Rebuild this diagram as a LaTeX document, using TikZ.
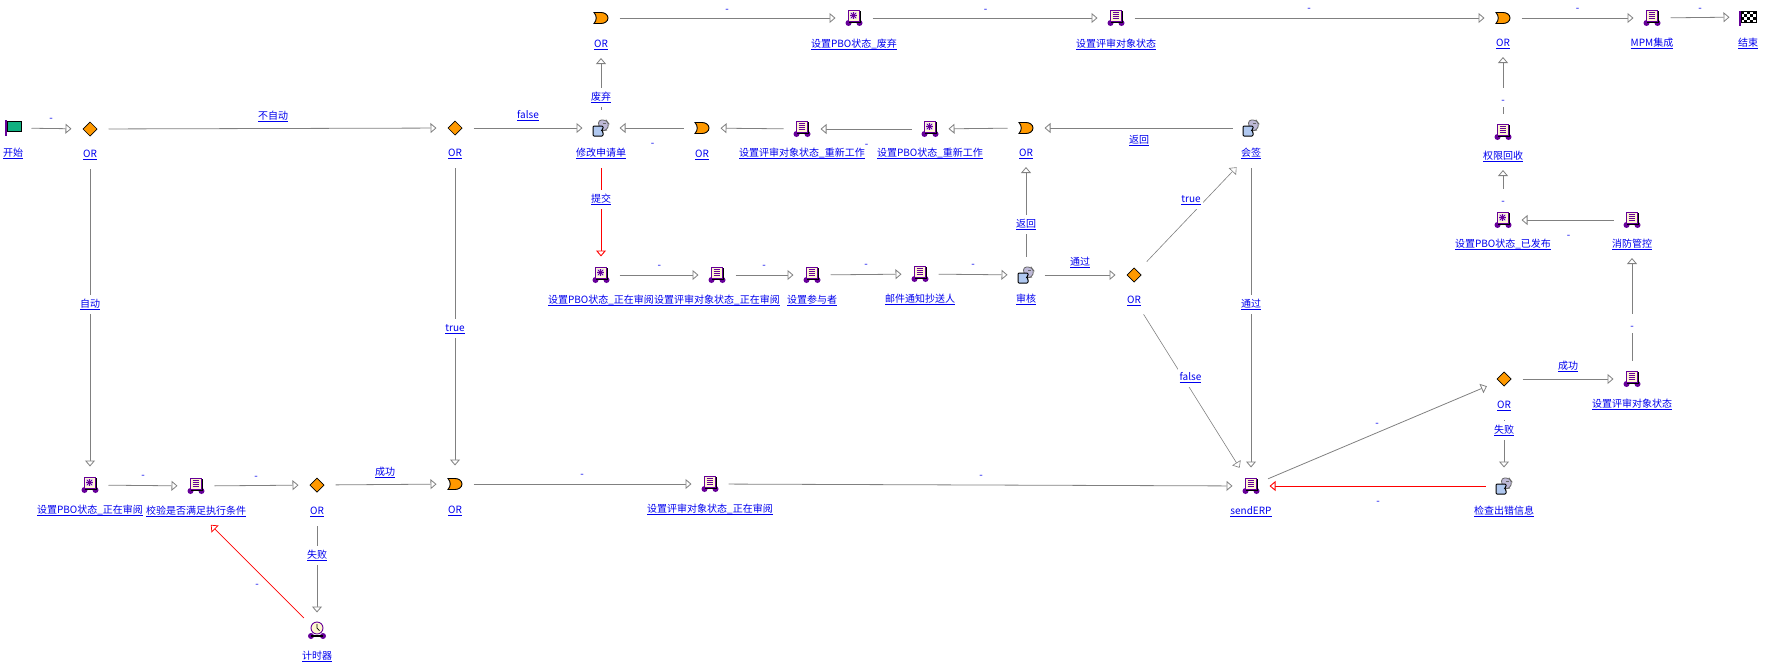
\documentclass[tikz,border=0pt]{standalone}
\usepackage{fontspec}
\setmainfont{Noto Sans CJK SC}
\usetikzlibrary{arrows.meta}
\definecolor{linkblue}{RGB}{0,0,238}
\definecolor{hubgray}{RGB}{128,128,128}
\definecolor{gateorange}{RGB}{255,153,0}
\definecolor{wheelpurple}{RGB}{102,0,153}
\definecolor{pagecream}{RGB}{255,248,208}
\definecolor{flaggreen}{RGB}{16,176,128}
\definecolor{clerkblue}{RGB}{176,200,240}
\definecolor{clerklilac}{RGB}{190,185,215}
\newcommand{\lnk}[1]{\sbox0{#1}\rlap{\rule[-2.6pt]{\wd0}{0.9pt}}\box0}
\newcommand{\nolab}{\raisebox{-3.5pt}{-}}
\newcommand{\stepnode}[6]{%
    \node[hub] (#2) at (#3,#4) {};
    \pic at (#2) {#1};
    \node[tag] (#2l) at (#3,#5) {\lnk{#6}};}
\tikzset{
    hub/.style={circle, minimum size=37pt, inner sep=0pt, outer sep=0pt},
    tag/.style={inner sep=0pt, text=linkblue, font=\fontsize{10}{12}\selectfont, text height=9pt, text depth=1pt},
    plaintag/.style={inner sep=0pt, inner xsep=2pt, text=linkblue, font=\fontsize{10}{12}\selectfont, text height=12pt, text depth=7pt},
    edgetag/.style={plaintag, fill=white},
    flow/.style={-{Triangle[open, fill=white, length=6pt, width=10pt]}, hubgray, line width=0.8pt},
    thinflow/.style={flow, line width=0.6pt},
    redflow/.style={-{Triangle[open, fill=white, length=6pt, width=10pt]}, red, line width=0.9pt},
    fromtag/.style={shorten <=16pt},
    totag/.style={shorten >=15pt},
    diamondicon/.pic={\draw[fill=gateorange, line width=0.7pt] (-7,0) -- (0,-7) -- (7,0) -- (0,7) -- cycle;},
    gateicon/.pic={\draw[fill=gateorange, line width=0.9pt] (-7,-5.5) -- (0,-5.5) .. controls (4,-5.5) and (7,-3) .. (7,0) .. controls (7,3) and (4,5.5) .. (0,5.5) -- (-7,5.5) .. controls (-4,2) and (-4,-2) .. (-7,-5.5) -- cycle;},
    wheels/.pic={
        \fill[wheelpurple] (-5.5,5) circle(3);
        \fill[wheelpurple] (5.5,5) circle(3);},
    docicon/.pic={
        \pic {wheels};
        \fill (-5,-7) rectangle (7,5);
        \draw[wheelpurple, fill=pagecream, line width=0.9pt] (-6,-8) rectangle (5,3);
        \foreach \ly in {-5.5,-3.5,-1.5,0.5}
            \draw[wheelpurple, line width=0.8pt] (-3.5,\ly) -- (3,\ly);},
    staricon/.pic={
        \pic {wheels};
        \fill (-5,-7) rectangle (7,5);
        \draw[wheelpurple, fill=pagecream, line width=0.9pt] (-6,-8) rectangle (5,3);
        \fill[wheelpurple!20] (-4,-6) rectangle (3,1);
        \foreach \la in {0,45,90,135}
            \draw[wheelpurple, line width=0.8pt] (-0.5,-2.5) ++(\la:3.2) -- ++(\la+180:6.4);},
    clerkicon/.pic={
        \draw[fill=clerklilac, line width=0.8pt, draw=black!60, rounded corners=3pt] (-2.5,-8) -- (5,-8) -- (8,-4) -- (6,2) -- (1,3) -- (-2.5,-2) -- cycle;
        \draw[black!60, line width=0.7pt] (2,-4.5) -- (5,-4.5);
        \draw[fill=clerkblue, line width=1pt, rounded corners=1pt] (-8,-2) -- (2,-2) -- (2,1) -- (0.5,2) -- (2,4) -- (2,8) -- (-8,8) -- cycle;},
    timericon/.pic={
        \fill[wheelpurple] (-6,5) circle(3);
        \fill[wheelpurple] (6,5) circle(3);
        \fill (-6,4) rectangle (6,6);
        \draw[wheelpurple, fill=pagecream, line width=0.9pt] (0,-3) circle(6);
        \draw[black, line width=0.7pt] (0,-7) -- (0,-3) -- (2.5,-0.5);},
    flagicon/.pic={
        \draw[wheelpurple, line width=1.2pt] (-7,-8) -- (-7,8);
        \draw[fill=flaggreen, line width=1pt] (-6,-7) rectangle (8,3);},
    finishicon/.pic={
        \draw[wheelpurple, line width=1.2pt] (-8,-6) -- (-8,9);
        \draw[fill=white, line width=0.8pt] (-7,-6) rectangle (8,5);
        \foreach \cx/\cy in {-7/-6,-1/-6,5/-6,-4/-3,2/-3,-7/0,-1/0,5/0,-4/3,2/3}
            \fill (\cx,\cy) rectangle ++(3,3);}
}
\begin{document}
\begin{tikzpicture}[x=1pt, y=-1pt]
\useasboundingbox (0,0) rectangle (1766,670);
% Left column
    \stepnode{flagicon}{start}{13}{128}{152}{开始}
    \stepnode{diamondicon}{autoor}{90}{129}{153}{OR}
    \stepnode{staricon}{pboreview}{90}{485}{509}{设置PBO状态\_正在审阅}
    \stepnode{docicon}{precheck}{196}{486}{510}{校验是否满足执行条件}
    \stepnode{diamondicon}{checkor}{317}{485}{510}{OR}
    \stepnode{timericon}{timer}{317}{631}{655}{计时器}
    \stepnode{diamondicon}{manualor}{455}{128}{152}{OR}
    \stepnode{gateicon}{joinor}{455}{484}{509}{OR}
    \stepnode{docicon}{objreview}{710}{484}{508}{设置评审对象状态\_正在审阅}
% Rework row
    \stepnode{gateicon}{dropor}{601}{18}{43}{OR}
    \stepnode{staricon}{pbodrop}{854}{18}{43}{设置PBO状态\_废弃}
    \stepnode{docicon}{objdrop}{1116}{18}{43}{设置评审对象状态}
    \stepnode{clerkicon}{amend}{601}{128}{152}{修改申请单}
    \stepnode{gateicon}{amendor}{702}{128}{153}{OR}
    \stepnode{docicon}{objrework}{802}{129}{152}{设置评审对象状态\_重新工作}
    \stepnode{staricon}{pborework}{930}{129}{152}{设置PBO状态\_重新工作}
    \stepnode{gateicon}{backor}{1026}{128}{152}{OR}
    \stepnode{clerkicon}{cosign}{1251}{128}{152}{会签}
% Review row
    \stepnode{staricon}{pbosecond}{601}{275}{299}{设置PBO状态\_正在审阅}
    \stepnode{docicon}{objsecond}{717}{275}{299}{设置评审对象状态\_正在审阅}
    \stepnode{docicon}{members}{812}{275}{299}{设置参与者}
    \stepnode{docicon}{mailcc}{920}{274}{298}{邮件通知抄送人}
    \stepnode{clerkicon}{audit}{1026}{275}{298}{审核}
    \stepnode{diamondicon}{auditor}{1134}{275}{299}{OR}
% Right side
    \stepnode{docicon}{senderp}{1251}{486}{510}{sendERP}
    \stepnode{diamondicon}{erpor}{1504}{379}{404}{OR}
    \stepnode{clerkicon}{errinfo}{1504}{486}{510}{检查出错信息}
    \stepnode{docicon}{objfinal}{1632}{379}{403}{设置评审对象状态}
    \stepnode{docicon}{firectl}{1632}{220}{243}{消防管控}
    \stepnode{staricon}{pbopub}{1503}{220}{243}{设置PBO状态\_已发布}
    \stepnode{docicon}{revoke}{1503}{132}{155}{权限回收}
    \stepnode{gateicon}{endor}{1503}{18}{42}{OR}
    \stepnode{docicon}{mpm}{1652}{18}{42}{MPM集成}
    \stepnode{finishicon}{finish}{1748}{17}{42}{结束}
% Connectors
    \draw[flow] (start) -- (autoor);
    \draw[flow] (autoor) -- (manualor);
    \draw[flow, fromtag] (autoorl.center) -- (pboreview);
    \draw[flow] (pboreview) -- (precheck);
    \draw[flow] (precheck) -- (checkor);
    \draw[flow] (checkor) -- (joinor);
    \draw[flow, fromtag] (checkorl.center) -- (timer);
    \draw[redflow, line width=0.7pt, shorten >=21pt] (timer) -- (precheckl.center);
    \draw[flow] (manualor) -- (amend);
    \draw[flow, fromtag] (manualorl.center) -- (joinor);
    \draw[flow] (joinor) -- (objreview);
    \draw[flow] (objreview) -- (senderp);
    \draw[flow, totag] (amend) -- (droporl.center);
    \draw[flow] (dropor) -- (pbodrop);
    \draw[flow] (pbodrop) -- (objdrop);
    \draw[flow] (objdrop) -- (endor);
    \draw[flow] (endor) -- (mpm);
    \draw[flow] (mpm) -- (finish);
    \draw[redflow, fromtag] (amendl.center) -- (pbosecond);
    \draw[flow] (amendor) -- (amend);
    \draw[flow] (objrework) -- (amendor);
    \draw[flow] (pborework) -- (objrework);
    \draw[flow] (backor) -- (pborework);
    \draw[flow] (cosign) -- (backor);
    \draw[flow] (pbosecond) -- (objsecond);
    \draw[flow] (objsecond) -- (members);
    \draw[flow] (members) -- (mailcc);
    \draw[flow] (mailcc) -- (audit);
    \draw[flow] (audit) -- (auditor);
    \draw[flow, totag] (audit) -- (backorl.center);
    \draw[thinflow, shorten >=21pt] (auditor) -- (cosignl.center);
    \draw[thinflow, shorten <=18pt, shorten >=3pt] (auditorl.center) -- (senderp);
    \draw[flow, fromtag] (cosignl.center) -- (senderp);
    \draw[flow] (senderp) -- (erpor);
    \draw[redflow] (errinfo) -- (senderp);
    \draw[flow, fromtag] (erporl.center) -- (errinfo);
    \draw[flow] (erpor) -- (objfinal);
    \draw[flow, totag] (objfinal) -- (firectll.center);
    \draw[flow] (firectl) -- (pbopub);
    \draw[flow, totag] (pbopub) -- (revokel.center);
    \draw[flow, totag] (revoke) -- (endorl.center);
% Connector labels
    \foreach \tx/\ty/\tt [count=\n] in {273/116.5/不自动, 90/304.5/自动, 455/328.5/true, 528/115.5/false,
        385/472.5/成功, 317/555.5/失败, 601/97.5/废弃, 601/199.5/提交, 1139/140.5/返回, 1026/224.5/返回,
        1080/262.5/通过, 1191/199.5/true, 1190.5/377.5/false, 1251/304.5/通过, 1568/366.5/成功, 1504/430.5/失败}
        \node[edgetag] (cond\n) at (\tx,\ty) {\lnk{\tt}};
    \foreach \dx/\dy [count=\n] in {51/115.5, 143/472.5, 256/473.5, 582/471.5, 981/472.5, 652.6/140, 866.5/141.5,
        727/6.5, 985.5/6.5, 1309/5.5, 1577.5/5.5, 1700/5.5, 1568.5/232.5, 1377/420.5, 1378/498.5,
        659.4/262.5, 764/262.5, 866/261.5, 973/261.5, 257/581.5}
        \node[plaintag] (dash\n) at (\dx,\dy) {\nolab};
    \foreach \dx/\dy [count=\n] in {1503/97.5, 1503/198.5, 1632/323.5}
        \node[edgetag] (gap\n) at (\dx,\dy) {\nolab};
\end{tikzpicture}
\end{document}
